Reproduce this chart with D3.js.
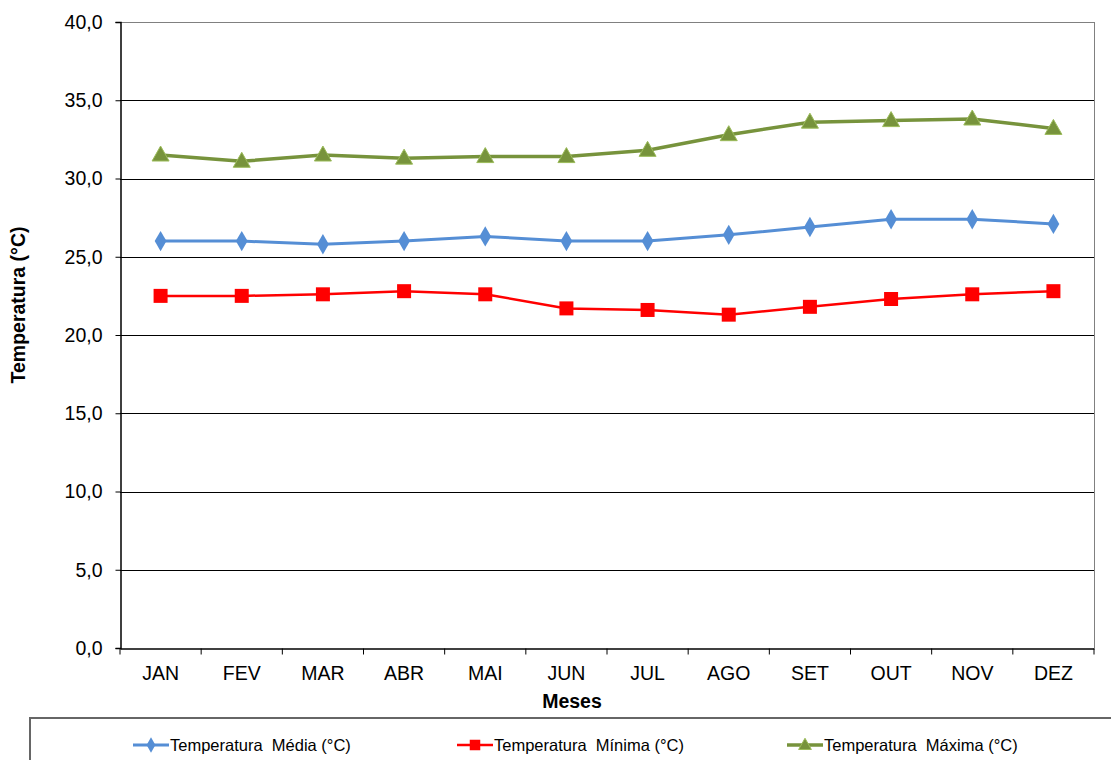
<!DOCTYPE html>
<html>
<head>
<meta charset="utf-8">
<script src="https://cdn.jsdelivr.net/npm/d3@7"></script>
<style>
  body { margin: 0; background: #fff; }
  svg { display: block; font-family: "Liberation Sans", Arial, sans-serif; }
</style>
</head>
<body>
<svg id="chart" width="1111" height="760"></svg>
<script>
const months = ["JAN", "FEV", "MAR", "ABR", "MAI", "JUN", "JUL", "AGO", "SET", "OUT", "NOV", "DEZ"];
const media  = [26.0, 26.0, 25.8, 26.0, 26.3, 26.0, 26.0, 26.4, 26.9, 27.4, 27.4, 27.1];
const minima = [22.5, 22.5, 22.6, 22.8, 22.6, 21.7, 21.6, 21.3, 21.8, 22.3, 22.6, 22.8];
const maxima = [31.5, 31.1, 31.5, 31.3, 31.4, 31.4, 31.8, 32.8, 33.6, 33.7, 33.8, 33.2];
const yTicks = [0, 5, 10, 15, 20, 25, 30, 35, 40];

const series = [
  { name: "Temperatura  Média (°C)", values: media, color: "#558ED5", width: 3, marker: "diamond" },
  { name: "Temperatura  Mínima (°C)", values: minima, color: "#FF0000", width: 2.5, marker: "square" },
  { name: "Temperatura  Máxima (°C)", values: maxima, color: "#77933C", width: 3.5, marker: "triangle" }
];

const svg = d3.select("#chart");
const plotLeft = 120, plotRight = 1094, plotTop = 22, plotBottom = 648;
const font = "'Liberation Sans', Arial, sans-serif";

const x = d3.scaleBand().domain(months).range([plotLeft, plotRight]);
const y = d3.scaleLinear().domain([0, 40]).range([plotBottom, plotTop]);

// grid lines
svg.append("g")
  .selectAll("line")
  .data(yTicks.filter(d => d > 0))
  .join("line")
  .attr("x1", plotLeft).attr("x2", plotRight)
  .attr("y1", d => Math.round(y(d)) + 0.5).attr("y2", d => Math.round(y(d)) + 0.5)
  .attr("stroke", d => d === 40 ? "#808080" : "#000")
  .attr("stroke-width", 1);

// right border of plot area
svg.append("line")
  .attr("x1", plotRight + 0.5).attr("x2", plotRight + 0.5)
  .attr("y1", plotTop).attr("y2", plotBottom)
  .attr("stroke", "#808080");

// y axis
const yAxis = svg.append("g")
  .attr("transform", `translate(${plotLeft + 0.5},0)`)
  .call(d3.axisLeft(y).tickValues(yTicks).tickSize(5).tickPadding(13)
    .tickFormat(d => d3.format(".1f")(d).replace(".", ",")));
yAxis.select(".domain").attr("stroke", "#000").attr("stroke-width", 1.5);
yAxis.selectAll(".tick line").attr("stroke", "#000");
yAxis.selectAll("text").attr("font-size", 19.5).attr("fill", "#000")
  .attr("font-family", font);

// x axis
const xAxis = svg.append("g")
  .attr("transform", `translate(0,${plotBottom + 0.5})`)
  .call(d3.axisBottom(x).tickSize(0).tickPadding(18));
xAxis.select(".domain").attr("stroke", "#000").attr("stroke-width", 1.5);
xAxis.selectAll("text").attr("font-size", 19.5).attr("fill", "#000")
  .attr("font-family", font);
xAxis.append("g")
  .selectAll("line")
  .data(months.map(m => x(m)).concat([plotRight]))
  .join("line")
  .attr("x1", d => d).attr("x2", d => d)
  .attr("y1", 0).attr("y2", 6)
  .attr("stroke", "#000");

// axis titles
svg.append("text")
  .attr("transform", "translate(25,305) rotate(-90)")
  .attr("text-anchor", "middle")
  .attr("font-size", 19.5).attr("font-weight", "bold")
  .text("Temperatura (°C)");

svg.append("text")
  .attr("x", 572).attr("y", 708)
  .attr("text-anchor", "middle")
  .attr("font-size", 19.5).attr("font-weight", "bold")
  .text("Meses");

const cx = d => x(d) + x.bandwidth() / 2;
const line = d3.line().x((v, i) => cx(months[i])).y(v => y(v));

function marker(g, type, color, px, py, scale) {
  const s = scale || 1;
  if (type === "diamond") {
    g.append("path")
      .attr("d", d3.symbol(d3.symbolDiamond, 120 * s * s)())
      .attr("transform", `translate(${px},${py})`)
      .attr("fill", color);
  } else if (type === "square") {
    g.append("rect")
      .attr("x", px - 7 * s).attr("y", py - 7 * s)
      .attr("width", 14 * s).attr("height", 14 * s)
      .attr("fill", color);
  } else {
    g.append("path")
      .attr("d", `M${px},${py - 9 * s}L${px + 8.5 * s},${py + 6 * s}L${px - 8.5 * s},${py + 6 * s}Z`)
      .attr("fill", color).attr("stroke", "#9BBB59").attr("stroke-width", 1);
  }
}

series.forEach(s => {
  const g = svg.append("g");
  g.append("path")
    .attr("d", line(s.values))
    .attr("fill", "none")
    .attr("stroke", s.color)
    .attr("stroke-width", s.width)
    .attr("stroke-linejoin", "round");
  s.values.forEach((v, i) => marker(g, s.marker, s.color, cx(months[i]), y(v)));
});

// legend
svg.append("rect")
  .attr("x", 30).attr("y", 718)
  .attr("width", 1100).attr("height", 60)
  .attr("fill", "none").attr("stroke", "#666").attr("stroke-width", 2);

const legendX = [133, 457, 787];
series.forEach((s, i) => {
  const g = svg.append("g");
  const lx = legendX[i], ly = 745;
  g.append("line")
    .attr("x1", lx).attr("x2", lx + 36)
    .attr("y1", ly).attr("y2", ly)
    .attr("stroke", s.color).attr("stroke-width", s.width);
  marker(g, s.marker, s.color, lx + 18, ly, 0.75);
  g.append("text")
    .attr("x", lx + 37).attr("y", ly + 6)
    .attr("font-size", 16.5).attr("fill", "#000")
    .attr("font-family", font)
    .attr("xml:space", "preserve")
    .style("white-space", "pre")
    .text(s.name);
});
</script>
</body>
</html>
